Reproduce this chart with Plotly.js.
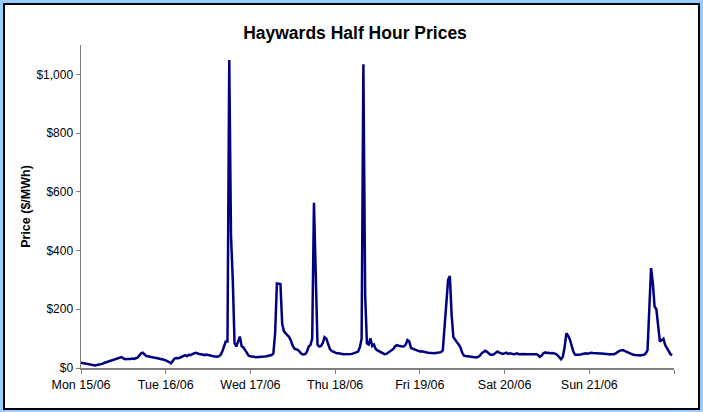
<!DOCTYPE html>
<html>
<head>
<meta charset="utf-8">
<script src="https://cdn.plot.ly/plotly-3.0.1.min.js"></script>
<style>
  html, body { margin: 0; padding: 0; background: #99ccff; }
  #chart { width: 703px; height: 412px; }
</style>
</head>
<body>
<div id="chart"></div>
<script>
// Half-hourly prices ($/MWh), 48 per day, Mon 15/06 .. Sun 21/06
const startTime = '2009-06-15T00:00:00';
const monPrices = [18,17,16,14,12,11,10,9,9,10,11,12,14,17,19,21,22,24,27,29,31,33,35,37,
                   33,30,31,30,31,32,31,33,35,42,50,52,46,41,40,38,37,36,35,34,33,32,31,28];
const tuePrices = [26,24,20,16,24,32,34,33,35,38,42,44,40,45,44,48,50,52,49,48,47,45,44,46,
                   44,43,41,40,39,38,40,44,55,70,90,90,1049,450,300,85,73,90,107,75,70,61,50,42];
const wedPrices = [40,38,38,37,37,37,38,38,39,40,41,42,44,50,120,288,287,286,150,125,118,113,105,92,
                   75,66,63,61,55,48,46,47,55,73,78,100,563,300,80,73,75,85,105,100,78,65,58,55];
const thuPrices = [52,50,50,48,48,47,47,46,47,48,49,51,55,56,70,100,1034,250,84,80,101,75,80,65,
                   60,57,55,50,47,48,52,56,58,65,74,78,76,74,73,74,80,95,90,68,66,62,60,58];
const friPrices = [56,57,55,54,53,52,51,50,50,51,52,52,54,60,140,250,300,313,180,105,95,88,80,70,
                   52,42,41,40,40,38,38,37,36,38,42,50,56,59,55,50,45,45,47,52,56,52,50,48];
const satPrices = [50,52,48,50,49,47,48,50,47,48,47,48,47,47,47,47,47,47,47,44,38,42,50,53,
                   51,52,50,51,50,48,44,35,30,38,70,118,110,97,75,55,45,44,45,46,48,48,50,49];
const sunPrices = [51,52,51,50,51,50,49,49,48,48,48,47,47,47,47,50,55,58,60,61,58,55,53,50,
                   47,45,44,43,42,43,44,45,50,61,200,340,290,209,200,150,90,95,100,78,68,60,47,44];

const tickDates  = ['2009-06-15','2009-06-16','2009-06-17','2009-06-18','2009-06-19','2009-06-20','2009-06-21','2009-06-22'];
const tickLabels = ['Mon 15/06','Tue 16/06','Wed 17/06','Thu 18/06','Fri 19/06','Sat 20/06','Sun 21/06',''];
const yTicks = [0, 200, 400, 600, 800, 1000];
const yTickLabels = ['$0', '$200', '$400', '$600', '$800', '$1,000'];

const prices = [].concat(monPrices, tuePrices, wedPrices, thuPrices, friPrices, satPrices, sunPrices);
const t0 = new Date(startTime + 'Z').getTime();
const times = prices.map((_, i) => {
  const d = new Date(t0 + i * 30 * 60 * 1000);
  return d.toISOString().replace('T', ' ').substring(0, 19);
});

const FONT = 'Liberation Sans, Arial, sans-serif';

const trace = {
  type: 'scatter', mode: 'lines',
  x: times, y: prices,
  line: { color: '#000080', width: 2.5 },
  hoverinfo: 'x+y'
};

const layout = {
  width: 703, height: 412,
  margin: { l: 81, r: 29, t: 45, b: 44, pad: 0 },
  paper_bgcolor: '#99ccff',
  plot_bgcolor: 'rgba(0,0,0,0)',
  font: { family: FONT, size: 12, color: '#000' },
  showlegend: false,
  title: {
    text: '<b>Haywards Half Hour Prices</b>',
    font: { family: FONT, size: 17.5, color: '#000' },
    x: 0.505, xanchor: 'center', y: 0.92, yanchor: 'middle'
  },
  xaxis: {
    type: 'date',
    range: ['2009-06-15 00:00', '2009-06-22 00:00'],
    tickmode: 'array', tickvals: tickDates, ticktext: tickLabels,
    ticks: 'outside', ticklen: 4, tickwidth: 1, tickcolor: '#808080',
    showline: true, linecolor: '#808080', linewidth: 1.5,
    showgrid: false, zeroline: false,
    tickfont: { family: FONT, size: 12.5, color: '#000' },
    fixedrange: true
  },
  yaxis: {
    range: [0, 1100],
    tickmode: 'array', tickvals: yTicks, ticktext: yTickLabels,
    ticks: 'outside', ticklen: 4, tickwidth: 1, tickcolor: '#808080',
    showline: true, linecolor: '#808080', linewidth: 1.5,
    showgrid: false, zeroline: false,
    tickfont: { family: FONT, size: 12, color: '#000' },
    title: { text: '<b>Price ($/MWh)</b>', font: { family: FONT, size: 12.5, color: '#000' }, standoff: 3 },
    fixedrange: true
  },
  shapes: [{
    type: 'rect', xref: 'paper', yref: 'paper', layer: 'below',
    x0: -0.1298, x1: 1.0422, y0: -0.1269, y1: 1.1269,
    fillcolor: '#ffffff', line: { color: '#000000', width: 2 }
  }]
};

Plotly.newPlot('chart', [trace], layout, { displayModeBar: false, staticPlot: true });
</script>
</body>
</html>
